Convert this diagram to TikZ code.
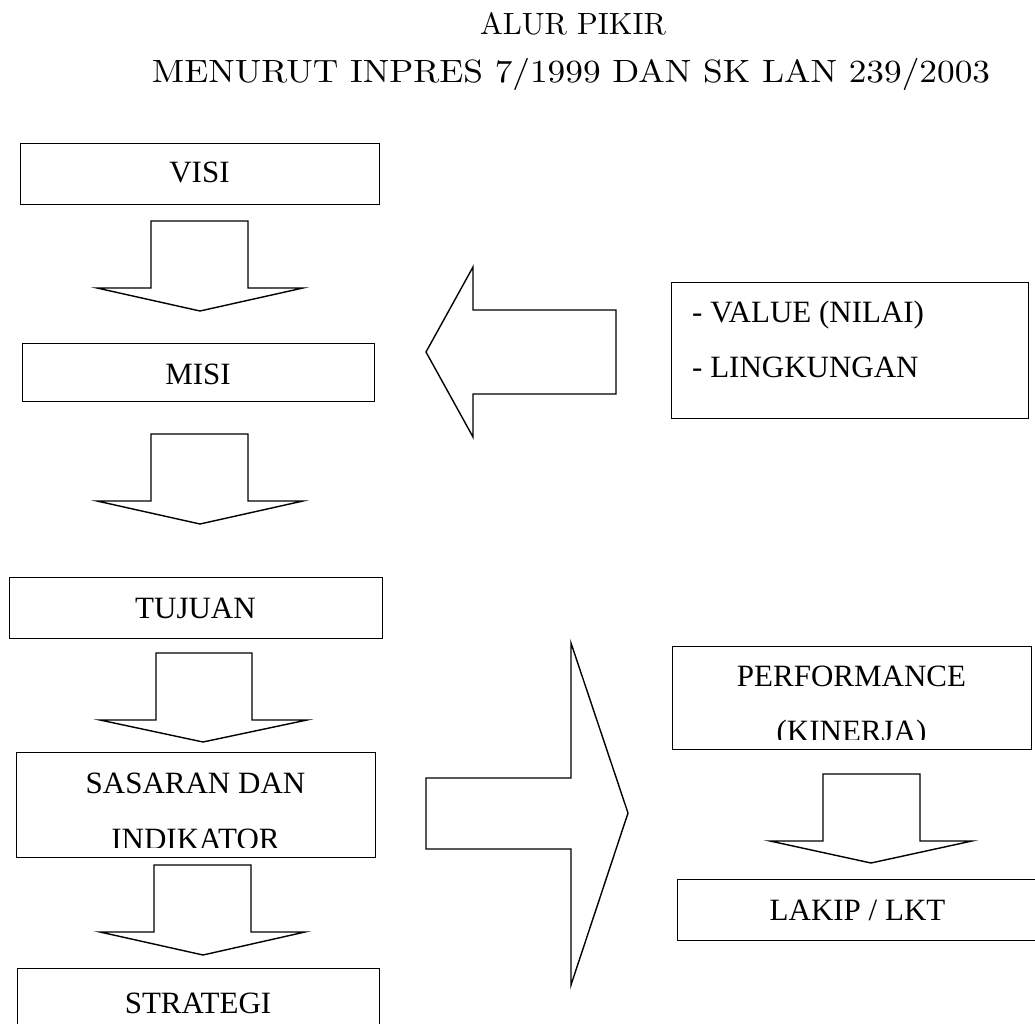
\documentclass[tikz,border=0pt]{standalone}
\usepackage{fontspec}
\newfontfamily\bodyfont{Liberation Serif}
\begin{document}
\begin{tikzpicture}[x=1pt,y=-1pt,
  box/.style={draw, line width=1.4pt, inner sep=0pt, anchor=north west},
  blk/.style={draw, line width=1.4pt, line join=miter, fill=white},
  lbl/.style={font=\bodyfont\fontsize{31}{37}\selectfont, inner sep=0pt, anchor=base},
  ttl/.style={font=\fontsize{10}{12}\selectfont, inner sep=0pt, anchor=base}]
\useasboundingbox (0,0) rectangle (1035,1024);

% title
\node[ttl] (t1) at (573,35) {\resizebox{186pt}{22pt}{ALUR PIKIR}};
\node[ttl] (t2) at (571,83) {\resizebox{838pt}{24.15pt}{MENURUT INPRES 7/1999 DAN SK LAN 239/2003}};

% boxes
\node[box, minimum width=359pt, minimum height=61pt] (visi) at (20,143) {};
\node[box, minimum width=352pt, minimum height=58pt] (misi) at (22,343) {};
\node[box, minimum width=373pt, minimum height=61pt] (tujuan) at (9,577) {};
\node[box, minimum width=359pt, minimum height=105pt] (sasaran) at (16,752) {};
\node[box, minimum width=362pt, minimum height=70pt] (strategi) at (17,968) {};
\node[box, minimum width=357pt, minimum height=136pt] (value) at (671,282) {};
\node[box, minimum width=359pt, minimum height=103pt] (perf) at (672,646) {};
\node[box, minimum width=361pt, minimum height=61pt] (lakip) at (677,879) {};

% texts
\node[lbl] (visit) at (199.5,183) {VISI};
\node[lbl] (misit) at (198,384) {MISI};
\node[lbl] (tujuant) at (195.5,618) {TUJUAN};
\begin{scope}
  \clip (16,752) rectangle (375,847);
  \node[lbl] (sasarant1) at (195.5,793) {SASARAN DAN};
  \node[lbl] (sasarant2) at (195.5,849) {INDIKATOR};
\end{scope}
\node[lbl] (strategit) at (198,1013) {STRATEGI};
\node[lbl, anchor=base west] (valuet1) at (692,322) {- VALUE (NILAI)};
\node[lbl, anchor=base west] (valuet2) at (692,377) {- LINGKUNGAN};
\begin{scope}
  \clip (672,646) rectangle (1031,739);
  \node[lbl] (perft1) at (851.5,686) {PERFORMANCE};
  \node[lbl] (perft2) at (851.5,741) {(KINERJA)};
\end{scope}
\node[lbl] (lakipt) at (857.5,920) {LAKIP / LKT};

% block arrows
\draw[blk] (151,221) -- (248,221) -- (248,288) -- (303,288) -- (200,311) -- (97,288) -- (151,288) -- cycle;
\draw[blk] (151,434) -- (248,434) -- (248,501) -- (303,501) -- (200,524) -- (97,501) -- (151,501) -- cycle;
\draw[blk] (156,653) -- (252,653) -- (252,720) -- (307,720) -- (203,742) -- (100,720) -- (156,720) -- cycle;
\draw[blk] (154,865) -- (251,865) -- (251,932) -- (305,932) -- (203,955) -- (100,932) -- (154,932) -- cycle;
\draw[blk] (823,774) -- (920,774) -- (920,841) -- (972,841) -- (871,863) -- (770,841) -- (823,841) -- cycle;
\draw[blk] (616,310) -- (473,310) -- (473,267) -- (426,352) -- (473,437) -- (473,394) -- (616,394) -- cycle;
\draw[blk] (426,778) -- (571,778) -- (571,643) -- (628,813) -- (571,985) -- (571,849) -- (426,849) -- cycle;
\end{tikzpicture}
\end{document}
